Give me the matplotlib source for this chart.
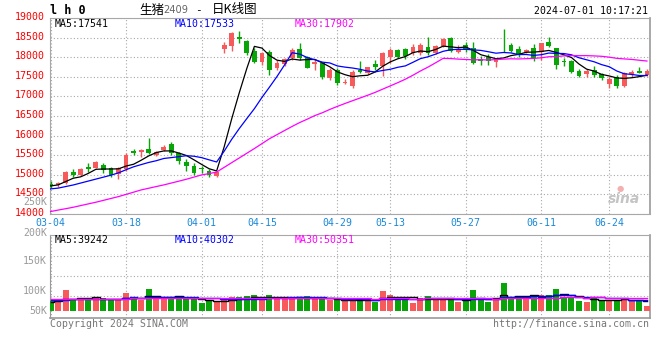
import numpy as np
import matplotlib.pyplot as plt
from matplotlib.transforms import ScaledTranslation

# ---- values (生猪2409 daily K) ----
tick_idx = [0, 10, 20, 28, 38, 45, 55, 65, 74]
tick_labels = ["03-04", "03-18", "04-01", "04-15", "04-29", "05-13", "05-27", "06-11", "06-24"]

opens = [14767, 14733, 14785, 15082, 14997, 15192, 15184, 15252, 15184, 15014,
         15141, 15609, 15575, 15651, 15507, 15635, 15787, 15550, 15337, 15235,
         15166, 15106, 14970, 18209, 18286, 18524, 18413, 18158, 17886, 18141,
         17716, 17818, 17971, 18209, 18014, 17827, 17844, 17461, 17674, 17333,
         17274, 17674, 17589, 17827, 17776, 17997, 18184, 18209, 18099, 18099,
         18269, 18116, 18286, 18498, 18141, 18311, 18226, 17946, 18014, 17886,
         18294, 18311, 18201, 18124, 18226, 18124, 18379, 18226, 17903, 17903,
         17648, 17571, 17674, 17563, 17308, 17503, 17274, 17571, 17657, 17546]
highs = [14844, 14818, 15100, 15150, 15167, 15294, 15345, 15294, 15209, 15209,
         15550, 15660, 15660, 15932, 15609, 15762, 15830, 15592, 15396, 15294,
         15225, 15140, 15106, 18396, 18651, 18668, 18439, 18226, 18141, 18184,
         17929, 17988, 18226, 18354, 18031, 17929, 17886, 17716, 17716, 17435,
         17674, 17912, 17759, 17929, 18141, 18226, 18201, 18226, 18337, 18354,
         18507, 18320, 18498, 18507, 18311, 18379, 18379, 18031, 18073, 17988,
         18719, 18354, 18286, 18209, 18337, 18371, 18507, 18243, 17988, 17929,
         17699, 17699, 17776, 17606, 17503, 17546, 17614, 17674, 17742, 17691]
lows = [14657, 14700, 14759, 14955, 14980, 15082, 15167, 15040, 14955, 14900,
        15107, 15507, 15464, 15524, 15490, 15618, 15507, 15269, 15099, 14997,
        15037, 14936, 14953, 18116, 18167, 18354, 18056, 17844, 17801, 17546,
        17674, 17784, 17929, 17929, 17716, 17674, 17444, 17418, 17291, 17308,
        17223, 17589, 17572, 17674, 17520, 17861, 17971, 17946, 18056, 18056,
        18056, 18090, 18269, 18141, 18099, 18141, 17827, 17801, 17801, 17759,
        18141, 18124, 18014, 18099, 17912, 17929, 18269, 17699, 17784, 17589,
        17503, 17503, 17503, 17418, 17206, 17206, 17231, 17503, 17589, 17520]
closes = [14716, 14800, 15082, 14997, 15150, 15150, 15320, 15124, 14997, 15167,
          15507, 15550, 15635, 15550, 15592, 15720, 15550, 15363, 15235, 15040,
          15141, 14996, 15080, 18311, 18626, 18456, 18099, 17886, 18099, 17674,
          17861, 17946, 18184, 17971, 17733, 17886, 17503, 17674, 17333, 17376,
          17631, 17614, 17742, 17759, 18099, 18184, 18014, 18031, 18252, 18311,
          18099, 18286, 18464, 18167, 18201, 18184, 17861, 17903, 17912, 17946,
          18277, 18167, 18056, 18184, 17971, 18354, 18294, 17801, 17878, 17631,
          17520, 17648, 17546, 17461, 17435, 17265, 17589, 17631, 17606, 17657]

ma5 = [14716, 14742, 14827, 14912, 14949, 15036, 15140, 15148, 15148, 15152,
       15223, 15269, 15371, 15482, 15567, 15609, 15609, 15555, 15492, 15382,
       15266, 15155, 15098, 15714, 16431, 17094, 17714, 18276, 18233, 18043,
       17924, 17893, 17953, 17927, 17939, 17944, 17855, 17753, 17626, 17554,
       17503, 17526, 17539, 17624, 17769, 17880, 17960, 18017, 18116, 18158,
       18141, 18196, 18282, 18265, 18243, 18260, 18175, 18063, 18012, 17961,
       17980, 18041, 18072, 18126, 18131, 18146, 18172, 18121, 18060, 17992,
       17825, 17696, 17645, 17561, 17522, 17471, 17459, 17476, 17505, 17541]
ma10 = [14640, 14660, 14700, 14740, 14790, 14840, 14890, 14940, 14990, 15050,
        15129, 15204, 15260, 15315, 15359, 15416, 15439, 15463, 15487, 15474,
        15438, 15382, 15327, 15603, 15906, 16180, 16435, 16687, 16973, 17237,
        17509, 17804, 18114, 18080, 17991, 17934, 17874, 17853, 17777, 17747,
        17724, 17691, 17646, 17625, 17662, 17692, 17743, 17778, 17870, 17964,
        18011, 18078, 18150, 18191, 18201, 18201, 18186, 18173, 18139, 18102,
        18120, 18108, 18067, 18069, 18046, 18063, 18106, 18096, 18093, 18061,
        17986, 17934, 17883, 17810, 17757, 17648, 17577, 17560, 17533, 17533]
ma30 = [14062, 14100, 14135, 14172, 14215, 14258, 14300, 14348, 14396, 14444,
        14500, 14557, 14614, 14657, 14700, 14742, 14790, 14838, 14887, 14942,
        14997, 15030, 15070, 15190, 15310, 15430, 15550, 15670, 15795, 15920,
        16025, 16130, 16234, 16333, 16419, 16510, 16583, 16668, 16746, 16819,
        16890, 16959, 17029, 17103, 17186, 17268, 17351, 17439, 17540, 17649,
        17748, 17857, 17970, 17965, 17951, 17942, 17934, 17935, 17929, 17938,
        17951, 17959, 17955, 17962, 17970, 17985, 18012, 18016, 18034, 18042,
        18039, 18040, 18033, 18023, 18001, 17971, 17956, 17943, 17922, 17902]

volume = [38400, 35800, 80600, 44800, 48600, 44800, 48600, 48600, 42200, 42200,
          70400, 48600, 42200, 84500, 48600, 48600, 51200, 48600, 48600, 46100,
          32000, 38400, 33300, 46100, 55000, 53800, 58900, 61400, 42200, 61400,
          48600, 53800, 48600, 48600, 58900, 46100, 48600, 42200, 42200, 38400,
          38400, 49900, 42200, 33300, 78100, 61400, 48600, 44800, 32000, 48600,
          57600, 42200, 42200, 48600, 35800, 44800, 80600, 42200, 35800, 42200,
          108800, 48600, 48600, 46100, 61400, 61400, 61400, 84500, 48600, 48600,
          39700, 35800, 48600, 38400, 42200, 42200, 51200, 42200, 42200, 20500]
vol_ma5 = [35.8, 39.7, 44.8, 44.8, 49.6, 50.9, 53.5, 47.1, 46.6, 45.3,
           50.4, 50.4, 49.1, 57.6, 58.9, 54.5, 55.0, 56.3, 49.1, 48.6,
           45.3, 42.7, 39.7, 39.2, 41.0, 45.3, 49.4, 55.0, 54.3, 55.5,
           54.5, 53.5, 50.9, 52.2, 51.7, 51.2, 50.2, 48.9, 47.6, 43.5,
           42.0, 42.2, 42.2, 40.4, 48.4, 53.0, 52.7, 53.2, 53.0, 47.1,
           46.3, 45.0, 44.5, 47.8, 45.3, 42.7, 50.4, 50.4, 47.8, 49.1,
           61.9, 55.5, 56.8, 58.9, 62.7, 53.2, 55.8, 63.0, 63.5, 60.9,
           56.6, 51.4, 44.3, 42.2, 40.9, 41.4, 44.5, 43.2, 44.0, 39.2]
vol_ma10 = [42.0, 42.5, 43.5, 44.5, 45.5, 46.0, 46.5, 47.0, 47.2, 47.5,
            50.7, 51.9, 48.1, 52.1, 52.1, 52.5, 52.7, 52.7, 53.4, 53.8,
            49.9, 48.9, 48.0, 44.2, 44.8, 45.3, 46.1, 47.4, 46.8, 48.3,
            49.9, 51.5, 53.0, 53.3, 53.6, 52.9, 51.9, 49.9, 49.9, 47.6,
            46.6, 46.2, 45.6, 44.0, 46.0, 47.5, 47.5, 47.7, 46.7, 47.8,
            49.7, 48.9, 48.9, 50.4, 46.2, 44.5, 47.7, 47.5, 47.8, 47.2,
            52.3, 53.0, 53.6, 53.4, 55.9, 57.6, 55.7, 59.9, 61.2, 61.8,
            54.9, 53.6, 53.7, 52.9, 50.9, 49.0, 48.0, 43.8, 43.1, 40.3]
vol_ma30 = [45.0, 45.2, 45.6, 46.0, 46.3, 46.7, 47.0, 47.2, 47.4, 47.6,
            47.8, 48.0, 48.2, 48.3, 48.5, 48.7, 48.9, 49.0, 49.1, 49.2,
            49.2, 49.3, 49.3, 49.4, 49.5, 49.6, 49.7, 49.8, 49.8, 49.8,
            50.2, 50.8, 49.7, 49.8, 50.2, 50.2, 50.2, 50.0, 50.0, 49.9,
            48.8, 48.8, 48.8, 47.1, 48.1, 48.5, 48.5, 48.3, 47.8, 47.9,
            48.7, 48.8, 49.1, 49.2, 48.6, 48.3, 49.0, 48.4, 48.2, 47.5,
            49.5, 49.3, 49.3, 49.3, 49.3, 49.9, 50.3, 51.7, 51.9, 52.2,
            52.3, 51.8, 52.0, 52.2, 51.0, 50.4, 50.5, 50.4, 50.7, 50.4]

header_price = ["MA5:17541", "MA10:17533", "MA30:17902"]
header_vol = ["MA5:39242", "MA10:40302", "MA30:50351"]
price_ticks = [14000, 14500, 15000, 15500, 16000, 16500, 17000, 17500, 18000, 18500, 19000]
vol_labels = ["50K", "100K", "150K", "200K", "250K"]

RED = "#f65a5a"
GREEN = "#08a408"
MA_COLORS = ["black", "#0000ff", "#ff00ff"]
GRID = "#a8a8a8"
MONO = "DejaVu Sans Mono"
FS = 7.1

W, H = 660, 360
fig = plt.figure(figsize=(6.6, 3.6), dpi=100)
fig.patch.set_facecolor("white")


def px(x, y):
    return x / W, 1 - y / H


x = np.arange(len(closes))
o = np.array(opens)
c = np.array(closes)
up = c >= o
colors = np.where(up, RED, GREEN)

# ---- price panel ----
ax = fig.add_axes([50 / W, 1 - 214 / H, 600 / W, 196 / H])
ax.set_xlim(-0.07, 79.4)
ax.set_ylim(14000, 19000)
ax.vlines(x, lows, highs, colors=colors, lw=1.0, zorder=3)
body_h = np.maximum(np.abs(c - o), 12)
ax.bar(x, body_h, bottom=np.minimum(o, c), width=0.64, color=colors, zorder=4)
for vals, col in zip([ma5, ma10, ma30], MA_COLORS):
    ax.plot(x, vals, color=col, lw=0.9, zorder=5)

ax.set_yticks(price_ticks)
ax.set_yticklabels([str(t) for t in price_ticks], color="red", fontfamily=MONO, fontsize=FS)
ax.set_xticks(tick_idx)
ax.set_xticklabels(tick_labels, color="#1a88d8", fontfamily=MONO, fontsize=FS)
ax.tick_params(length=0, pad=3)
ax.tick_params(axis="y", pad=4)
lift = ScaledTranslation(0, 2 / 100, fig.dpi_scale_trans)
for lab in ax.get_yticklabels():
    lab.set_transform(lab.get_transform() + lift)
ax.grid(True, color=GRID, linestyle=(0, (1, 2)), lw=0.8)
for side in ["top", "bottom", "left"]:
    ax.spines[side].set_linestyle((0, (1, 1)))
    ax.spines[side].set_color(GRID)
ax.spines["right"].set_color("#999999")
ax.spines["right"].set_linewidth(1.2)

for txt, col, xp in zip(header_price, MA_COLORS, [55, 175, 295]):
    fig.text(*px(xp, 24), txt, color=col, fontfamily=MONO, fontsize=FS, va="center")
fig.text(*px(640, 199), "sina", color="#c4c4c4", fontsize=10, fontweight="bold",
         fontstyle="italic", ha="right", va="center")
fig.text(*px(620, 189), "●", color="#f2b0b0", fontsize=6, ha="center", va="center")

# ---- volume panel ----
vx = fig.add_axes([50 / W, 1 - 318 / H, 600 / W, 83 / H])
vx.set_xlim(-0.07, 79.4)
vx.set_ylim(-26900, 291800)
vx.bar(x, volume, width=0.8, color=colors, zorder=3)
for vals, col in zip([vol_ma5, vol_ma10, vol_ma30], MA_COLORS):
    vx.plot(x, np.array(vals) * 1000, color=col, lw=1.0, drawstyle="steps-mid", zorder=4)
vx.set_xticks(tick_idx)
vx.set_xticklabels([])
vx.set_yticks([])
vx.tick_params(length=0)
vx.grid(True, axis="x", color=GRID, linestyle=(0, (1, 2)), lw=0.8)
for f in [0.27, 0.51, 0.75]:
    vx.plot([0, 1], [f, f], transform=vx.transAxes, color=GRID, ls=(0, (1, 2)), lw=0.8, zorder=1)
vx.spines["top"].set_linestyle((0, (1, 1)))
vx.spines["top"].set_color(GRID)
for side in ["bottom", "left", "right"]:
    vx.spines[side].set_color("#999999")
vx.spines["right"].set_linewidth(1.2)
vx.spines["bottom"].set_linewidth(1.2)

for lab, yp in zip(vol_labels, [311, 291, 261, 233, 202]):
    fig.text(*px(47, yp), lab, color="#999999", fontfamily=MONO, fontsize=FS, ha="right", va="center")
for txt, col, xp in zip(header_vol, MA_COLORS, [55, 175, 295]):
    fig.text(*px(xp, 240), txt, color=col, fontfamily=MONO, fontsize=FS, va="center")

# ---- titles / footer ----
fig.text(*px(50, 10), "l h 0", fontfamily=MONO, fontweight="bold", fontsize=8.5, va="center")
fig.text(*px(139, 10), "生猪", fontfamily="Noto Sans CJK SC", fontsize=9, va="center")
fig.text(*px(163, 10), "2409", color="#666666", fontfamily="DejaVu Sans", fontsize=FS, va="center")
fig.text(*px(195, 10), "-", fontfamily=MONO, fontsize=8, va="center")
fig.text(*px(212, 10), "日K线图", fontfamily="Noto Sans CJK SC", fontsize=9, va="center")
fig.text(*px(648, 11), "2024-07-01 10:17:21", fontfamily=MONO, fontsize=FS, ha="right", va="center")
fig.text(*px(50, 324), "Copyright 2024 SINA.COM", color="#777777", fontfamily=MONO, fontsize=FS, va="center")
fig.text(*px(649, 324), "http://finance.sina.com.cn", color="#777777", fontfamily=MONO, fontsize=FS,
         ha="right", va="center")

fig.savefig("out.png", dpi=100)
